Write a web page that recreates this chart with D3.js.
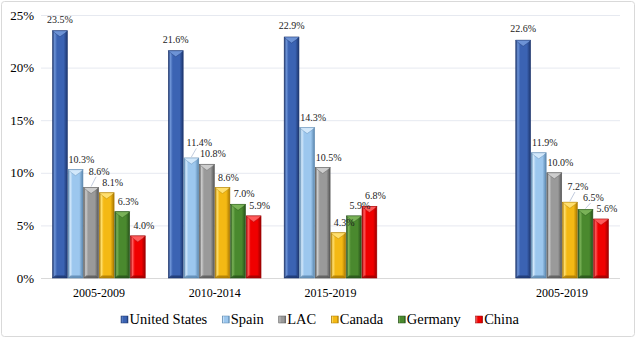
<!DOCTYPE html>
<html>
<head>
<meta charset="utf-8">
<script src="https://cdn.jsdelivr.net/npm/d3@7"></script>
<style>
  body { margin: 0; background: #fff; }
  svg text { font-family: "Liberation Serif", "Times New Roman", "DejaVu Serif", serif !important; }
</style>
</head>
<body>
<script>

// data
var periods = ["2005-2009", "2010-2014", "2015-2019", "", "2005-2019"];
var seriesNames = ["United States", "Spain", "LAC", "Canada", "Germany", "China"];
var usValues      = [23.5, 21.6, 22.9, null, 22.6];
var spainValues   = [10.3, 11.4, 14.3, null, 11.9];
var lacValues     = [8.6, 10.8, 10.5, null, 10.0];
var canadaValues  = [8.1, 8.6, 4.3, null, 7.2];
var germanyValues = [6.3, 7.0, 5.9, null, 6.5];
var chinaValues   = [4.0, 5.9, 6.8, null, 5.6];
var yTicks = [0, 5, 10, 15, 20, 25];

var allValues = [usValues, spainValues, lacValues, canadaValues, germanyValues, chinaValues];

// colours: base, light, dark
var palette = [
  ["#3b63b3", "#6d93d6", "#1d366e"],
  ["#9cc7ee", "#d2e8fb", "#5a86ae"],
  ["#9a9a9a", "#cdcdcd", "#575757"],
  ["#f4b914", "#ffdf6e", "#a97800"],
  ["#4a892e", "#79b257", "#27511a"],
  ["#f00000", "#ff5a5a", "#9c0000"]
];

var W = 636, H = 341;
var svg = d3.select("body").append("svg")
    .attr("width", W)
    .attr("height", H)
    .style("display", "block");

var defs = svg.append("defs");
palette.forEach(function(c, i) {
  var g = defs.append("linearGradient")
      .attr("id", "grad" + i)
      .attr("x1", "0").attr("x2", "1").attr("y1", "0").attr("y2", "0");
  g.append("stop").attr("offset", "0%").attr("stop-color", c[2]);
  g.append("stop").attr("offset", "14%").attr("stop-color", c[1]);
  g.append("stop").attr("offset", "30%").attr("stop-color", c[0]);
  g.append("stop").attr("offset", "75%").attr("stop-color", c[0]);
  g.append("stop").attr("offset", "100%").attr("stop-color", c[2]);
});

// outer frame
svg.append("rect")
    .attr("x", 1.5).attr("y", 1.5)
    .attr("width", W - 3).attr("height", H - 6)
    .attr("rx", 3)
    .attr("fill", "#fff")
    .attr("stroke", "#d9d9d9");

var x0 = d3.scaleBand()
    .domain(periods)
    .range([41, 620])
    .paddingInner(0.2)
    .paddingOuter(0.1);

var x1 = d3.scaleBand()
    .domain(d3.range(seriesNames.length))
    .range([0, x0.bandwidth()])
    .paddingInner(0.05);

var y = d3.scaleLinear()
    .domain([0, 25])
    .range([278, 15]);

// gridlines
svg.append("g")
  .selectAll("line")
  .data(yTicks)
  .enter().append("line")
    .attr("x1", 41).attr("x2", 620)
    .attr("y1", function(d) { return y(d) + 0.5; })
    .attr("y2", function(d) { return y(d) + 0.5; })
    .attr("stroke", function(d) { return d === 0 ? "#d9d9d9" : "#e6e9f0"; })
    .attr("stroke-width", 1);

// y axis labels
var yAxis = svg.append("g")
    .attr("transform", "translate(41,0)")
    .call(d3.axisLeft(y).tickValues(yTicks).tickSize(0).tickPadding(7)
      .tickFormat(function(d) { return d + "%"; }));
yAxis.select(".domain").remove();
yAxis.attr("font-family", null).attr("font-size", 13);
yAxis.selectAll("text").attr("fill", "#000");

// x axis labels
var xAxis = svg.append("g")
    .attr("transform", "translate(0,278)")
    .call(d3.axisBottom(x0).tickSize(0).tickPadding(10));
xAxis.select(".domain").remove();
xAxis.attr("font-family", null).attr("font-size", 12);
xAxis.selectAll("text").attr("fill", "#000");

// bars
var bars = [];
allValues.forEach(function(vals, s) {
  vals.forEach(function(v, p) {
    if (v !== null) bars.push({ s: s, p: p, v: v });
  });
});

var bw = x1.bandwidth();
var barG = svg.append("g")
  .selectAll("g")
  .data(bars)
  .enter().append("g")
    .attr("transform", function(d) {
      return "translate(" + (x0(periods[d.p]) + x1(d.s)) + ",0)";
    });

barG.append("rect")
    .attr("x", 0)
    .attr("y", function(d) { return y(d.v); })
    .attr("width", bw)
    .attr("height", function(d) { return y(0) - y(d.v); })
    .attr("fill", function(d) { return "url(#grad" + d.s + ")"; })
    .attr("stroke", function(d) { return palette[d.s][2]; })
    .attr("stroke-width", 0.6);

// bevelled top
barG.append("path")
    .attr("d", function(d) {
      var t = y(d.v);
      return "M0," + t + "L" + bw + "," + t + "L" + (bw - 2.5) + "," + (t + 2.5) +
             "L" + (bw / 2) + "," + (t + 6) + "L2.5," + (t + 2.5) + "Z";
    })
    .attr("fill", function(d) { return palette[d.s][1]; })
    .attr("stroke", function(d) { return palette[d.s][2]; })
    .attr("stroke-width", 0.4);

// darker foot
barG.append("path")
    .attr("d", function(d) {
      var b = y(0);
      return "M0," + b + "L" + bw + "," + b + "L" + (bw - 2.5) + "," + (b - 2.5) + "L2.5," + (b - 2.5) + "Z";
    })
    .attr("fill", function(d) { return palette[d.s][2]; })
    .attr("opacity", 0.8);

// value label positions, nudged up when they would collide with the next label
bars.forEach(function(d) {
  d.lx = x0(periods[d.p]) + x1(d.s) + bw / 2 + (d.s === 0 ? 0 : 6);
  d.ly = y(d.v) - (d.s === 0 ? 8 : 7);
  d.lifted = false;
});
periods.forEach(function(p, pi) {
  var grp = bars.filter(function(d) { return d.p === pi; });
  for (var i = grp.length - 2; i >= 0; i--) {
    var a = grp[i], b = grp[i + 1];
    if (Math.abs(a.lx - b.lx) < 24 && a.ly <= b.ly + 1 && b.ly - a.ly < 11) {
      a.ly = b.ly - 11;
      a.lx += 2;
      a.lifted = true;
    }
  }
});

var labels = svg.append("g");
labels.selectAll("line")
  .data(bars.filter(function(d) { return d.lifted; }))
  .enter().append("line")
    .attr("x1", function(d) { return x0(periods[d.p]) + x1(d.s) + bw / 2; })
    .attr("y1", function(d) { return y(d.v) - 1; })
    .attr("x2", function(d) { return d.lx - 3; })
    .attr("y2", function(d) { return d.ly + 2; })
    .attr("stroke", "#a6b4cf")
    .attr("stroke-width", 0.7);

labels.selectAll("text")
  .data(bars)
  .enter().append("text")
    .attr("x", function(d) { return d.lx; })
    .attr("y", function(d) { return d.ly; })
    .attr("text-anchor", "middle")
    .attr("font-size", 10)
    .attr("fill", "#222")
    .text(function(d) { return d.v.toFixed(1) + "%"; });

// legend
var legend = svg.append("g").attr("transform", "translate(121,319)");
var lx = 0;
seriesNames.forEach(function(name, i) {
  var item = legend.append("g").attr("transform", "translate(" + lx + ",0)");
  item.append("rect")
      .attr("x", 0).attr("y", -3)
      .attr("width", 7).attr("height", 7)
      .attr("fill", "url(#grad" + i + ")")
      .attr("stroke", palette[i][2])
      .attr("stroke-width", 0.5);
  var t = item.append("text")
      .attr("x", 8.5)
      .attr("y", 5)
      .attr("font-size", 14.5)
      .attr("fill", "#000")
      .text(name);
  lx += 8.5 + t.node().getComputedTextLength() + 15;
});

</script>
</body>
</html>
